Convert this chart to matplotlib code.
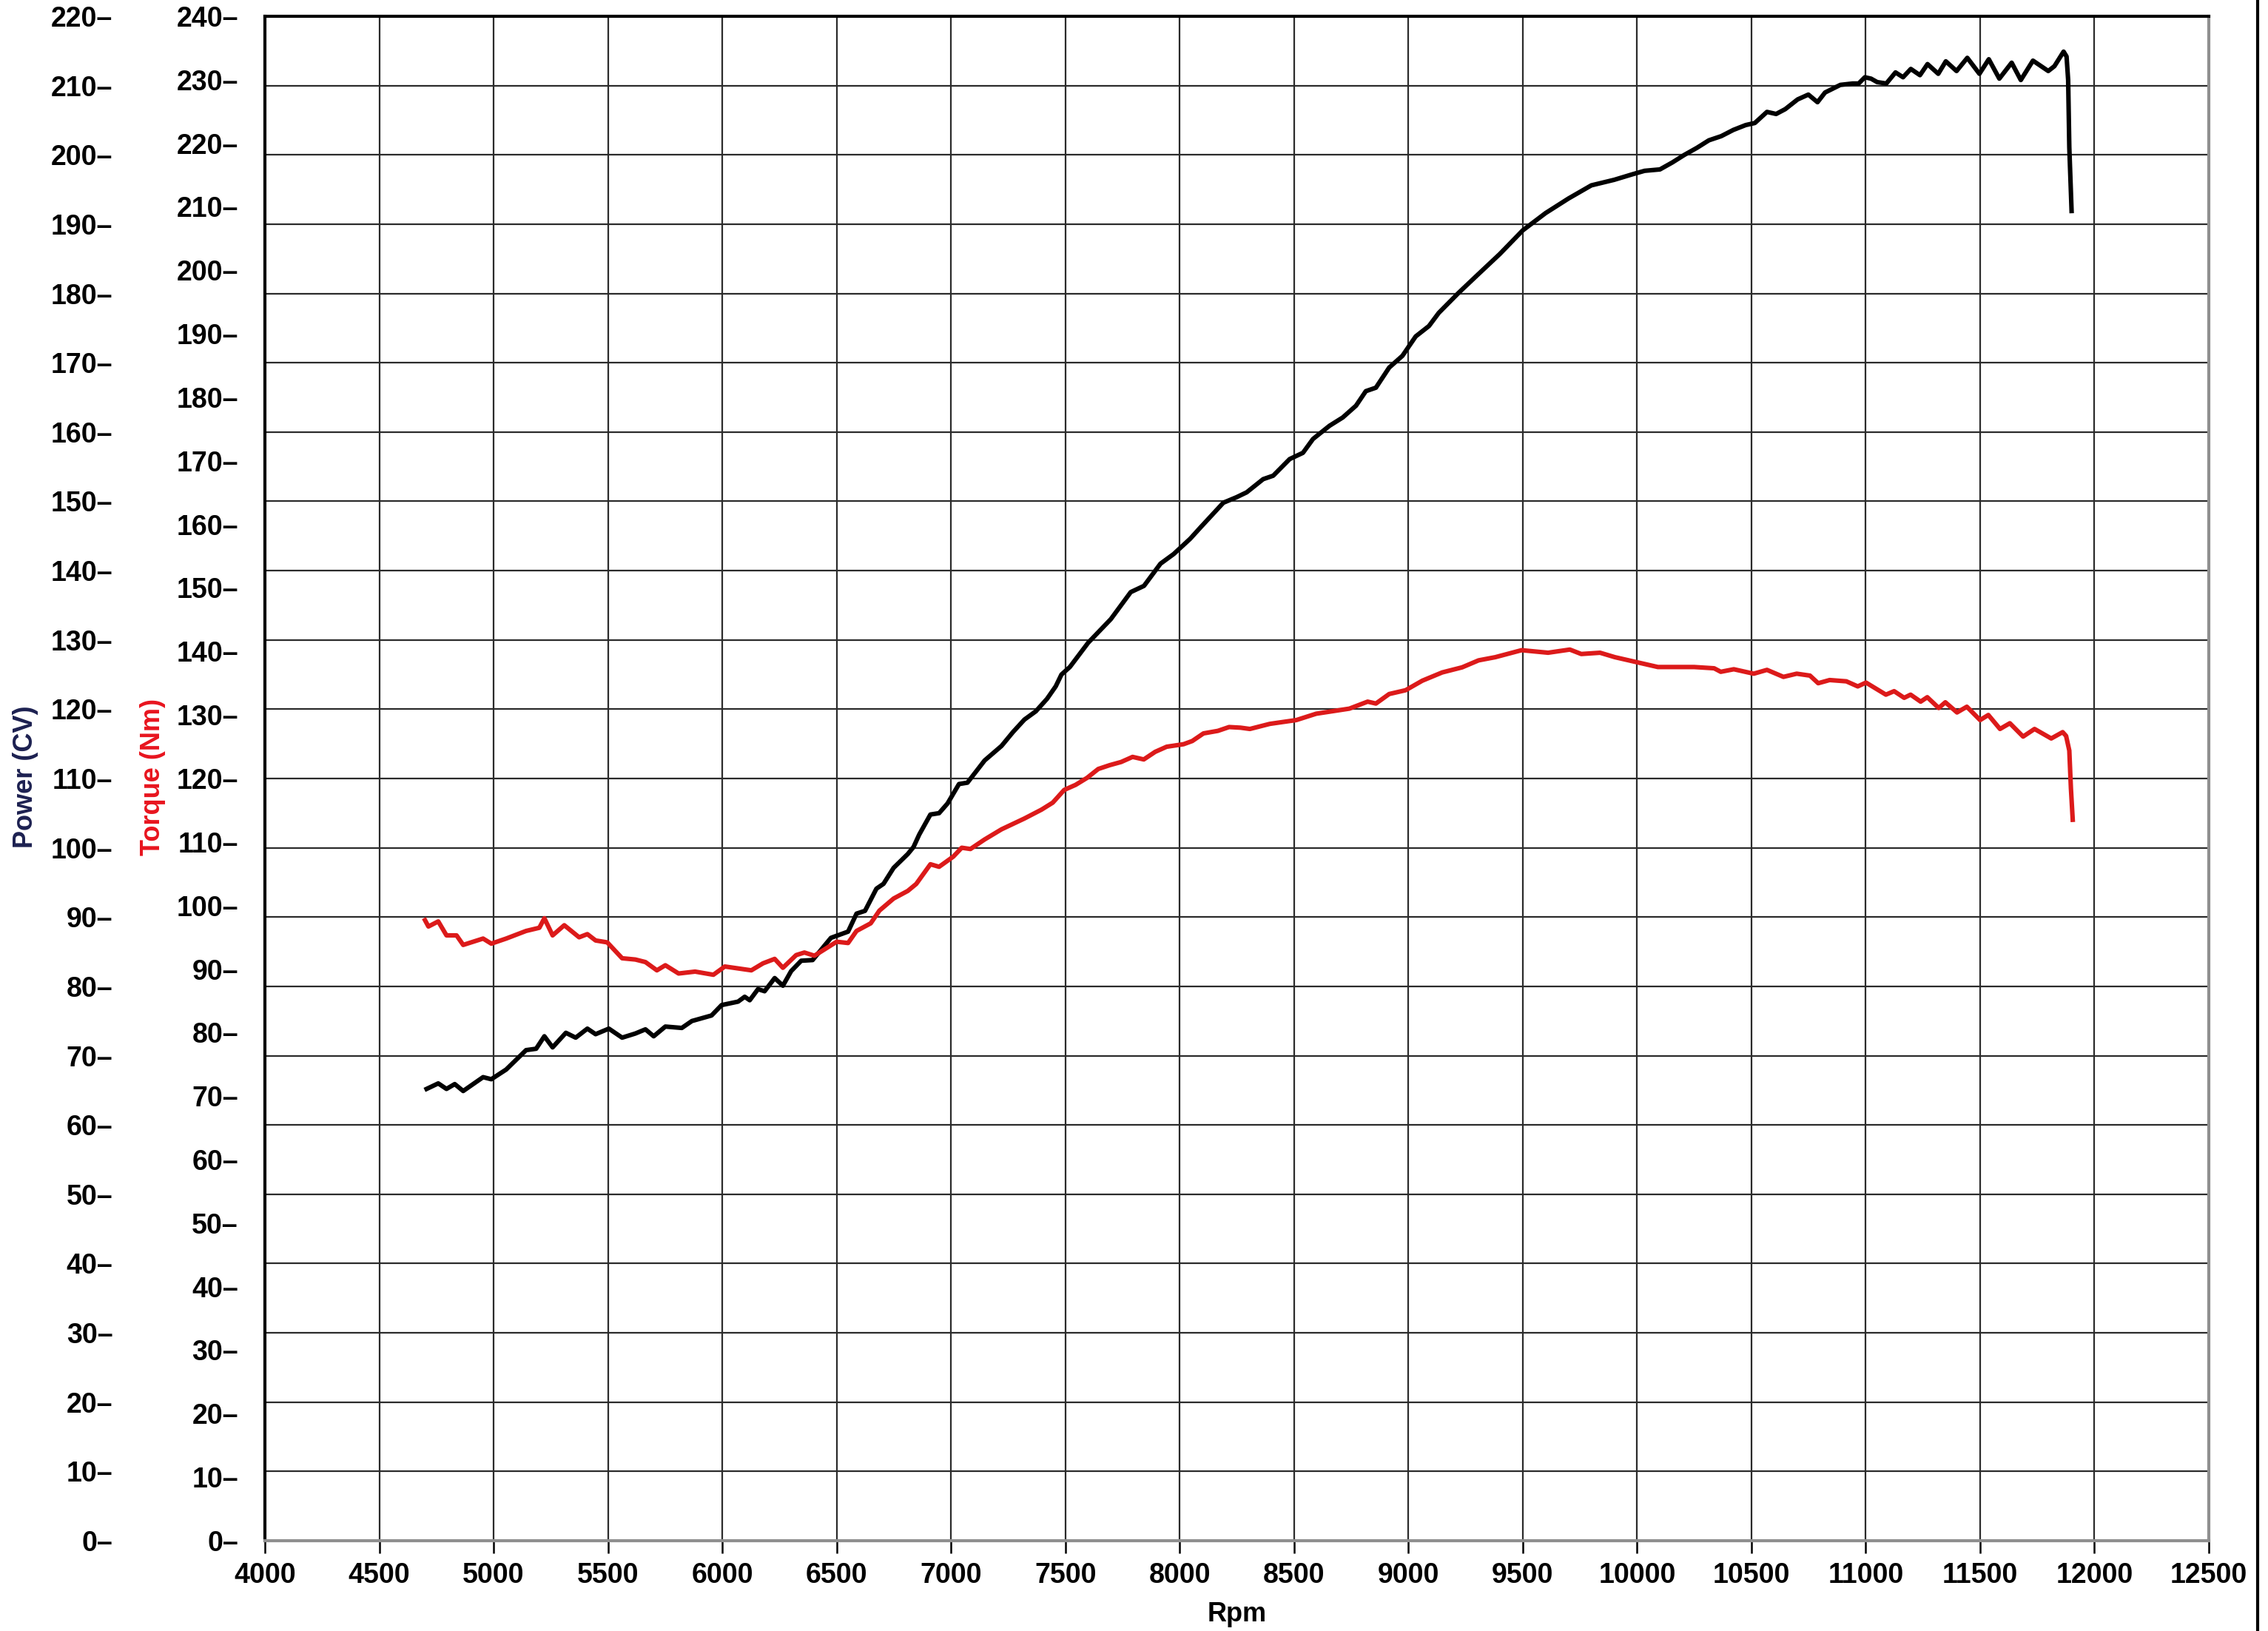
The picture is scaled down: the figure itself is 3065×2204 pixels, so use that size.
import matplotlib
matplotlib.use("Agg")
import matplotlib.pyplot as plt
from matplotlib.lines import Line2D

# power curve (CV)
rpm_power = [
    4707, 4758, 4794, 4830, 4867, 4954, 4990, 5055, 5142, 5186, 5222, 5258,
    5316, 5359, 5410, 5446, 5504, 5562, 5620, 5664, 5700, 5751, 5823, 5867,
    5953, 5997, 6069, 6098, 6120, 6156, 6185, 6229, 6265, 6301, 6345, 6395,
    6475, 6550, 6587, 6624, 6674, 6705, 6749, 6811, 6836, 6861, 6910, 6948,
    6985, 7035, 7072, 7147, 7221, 7271, 7321, 7371, 7420, 7458, 7483, 7520,
    7600, 7699, 7786, 7844, 7916, 7974, 8046, 8090, 8191, 8249, 8293, 8365,
    8409, 8481, 8539, 8583, 8655, 8713, 8771, 8814, 8858, 8916, 8974, 9032,
    9090, 9133, 9220, 9300, 9400, 9500, 9600, 9700, 9800, 9900, 9980, 10033,
    10100, 10154, 10207, 10261, 10314, 10368, 10421, 10475, 10515, 10568,
    10608, 10648, 10702, 10749, 10789, 10822, 10889, 10943, 10969, 10996,
    11023, 11050, 11090, 11130, 11163, 11197, 11237, 11270, 11317, 11350,
    11397, 11444, 11497, 11538, 11584, 11638, 11678, 11731, 11798, 11825,
    11865, 11878, 11885, 11890, 11900,
]
power_cv = [
    65.2, 66.0, 65.2, 65.9, 64.9, 66.9, 66.6, 68.0, 70.8, 71.0, 72.8, 71.2,
    73.3, 72.6, 73.9, 73.1, 73.9, 72.6, 73.2, 73.8, 72.8, 74.2, 74.0, 75.0,
    75.8, 77.3, 77.8, 78.5, 78.0, 79.6, 79.3, 81.2, 80.1, 82.2, 83.7, 83.8,
    87.0, 87.9, 90.5, 90.9, 94.1, 94.8, 97.1, 99.1, 100.1, 101.9, 104.8, 105.0,
    106.4, 109.2, 109.4, 112.6, 114.7, 116.7, 118.5, 119.7, 121.5, 123.3, 125.0, 126.1,
    129.6, 133.0, 136.9, 137.8, 141.0, 142.4, 144.6, 146.2, 149.8, 150.6, 151.3, 153.2,
    153.7, 156.1, 157.0, 159.0, 160.9, 162.1, 163.8, 165.9, 166.4, 169.3, 171.0, 173.8,
    175.3, 177.2, 180.1, 182.6, 185.7, 189.1, 191.6, 193.7, 195.6, 196.4, 197.2, 197.7,
    197.9, 198.9, 200.0, 201.0, 202.1, 202.7, 203.6, 204.3, 204.6, 206.2,
    205.9, 206.6, 208.0, 208.7, 207.6, 209.0, 210.1, 210.3, 210.3, 211.2,
    211.0, 210.5, 210.3, 211.9, 211.2, 212.4, 211.5, 213.1, 211.7, 213.5,
    212.1, 214.0, 211.7, 213.8, 211.0, 213.3, 210.8, 213.6, 212.1, 212.8,
    214.9, 214.2, 210.8, 201.1, 191.9,
]

# torque curve (Nm)
rpm_torque = [
    4700, 4715, 4758, 4794, 4838, 4867, 4954, 4990, 5055, 5142, 5200, 5222,
    5258, 5309, 5374, 5410, 5446, 5497, 5562, 5620, 5664, 5714, 5751, 5809,
    5881, 5961, 6011, 6069, 6127, 6178, 6229, 6265, 6323, 6359, 6403, 6500,
    6550, 6587, 6649, 6687, 6749, 6811, 6848, 6910, 6948, 7010, 7047, 7085,
    7147, 7221, 7321, 7396, 7445, 7495, 7545, 7595, 7644, 7694, 7744, 7794,
    7843, 7893, 7943, 8017, 8055, 8104, 8167, 8216, 8266, 8307, 8394, 8510,
    8597, 8742, 8822, 8858, 8916, 8988, 9061, 9148, 9235, 9307, 9380, 9495,
    9611, 9706, 9756, 9838, 9903, 10000, 10091, 10250, 10337, 10366, 10423,
    10510, 10568, 10640, 10698, 10756, 10792, 10842, 10915, 10965, 11001,
    11088, 11124, 11168, 11196, 11240, 11269, 11319, 11348, 11399, 11442,
    11500, 11536, 11587, 11630, 11688, 11738, 11811, 11861, 11876, 11890,
    11897, 11905,
]
torque_nm = [
    97.7, 96.7, 97.5, 95.3, 95.3, 93.8, 94.8, 94.0, 94.8, 96.0, 96.5, 98.0,
    95.3, 96.9, 95.0, 95.5, 94.5, 94.2, 91.7, 91.5, 91.1, 89.8, 90.6, 89.3,
    89.6, 89.1, 90.4, 90.1, 89.8, 90.9, 91.6, 90.2, 92.2, 92.6, 92.1, 94.3,
    94.1, 96.0, 97.2, 99.2, 101.1, 102.3, 103.4, 106.5, 106.1, 107.7, 109.1, 108.9,
    110.4, 112.0, 113.7, 115.1, 116.2, 118.2, 119.0, 120.1, 121.5, 122.1, 122.6, 123.4,
    123.0, 124.2, 125.0, 125.4, 125.9, 127.1, 127.5, 128.1, 128.0, 127.8, 128.6, 129.2,
    130.2, 131.0, 132.1, 131.8, 133.3, 133.9, 135.4, 136.7, 137.5, 138.6, 139.1, 140.2,
    139.8, 140.3, 139.6, 139.8, 139.1, 138.3, 137.55, 137.55, 137.35, 136.8, 137.2,
    136.5, 137.1, 136.0, 136.5, 136.2, 135.0, 135.5, 135.3, 134.5, 135.1,
    133.2, 133.75, 132.7, 133.2, 132.1, 132.8, 131.1, 132.0, 130.4, 131.3,
    129.2, 130.0, 127.8, 128.7, 126.6, 127.8, 126.3, 127.3, 126.7, 124.4,
    118.5, 113.5,
]

rpm_ticks = list(range(4000, 12501, 500))
power_ticks = list(range(0, 221, 10))
torque_ticks = list(range(0, 241, 10))

tick_font = ["Liberation Sans Narrow", "Liberation Sans", "DejaVu Sans"]
title_font = ["Liberation Sans", "DejaVu Sans"]

fig = plt.figure(figsize=(30.65, 22.04), dpi=100)
ax = fig.add_axes([358 / 3065, 122 / 2204, 2627 / 3065, 2060 / 2204])
ax_t = ax.twinx()

ax.plot(rpm_power, power_cv, color="black", lw=4.4, zorder=3,
        solid_joinstyle="round")
ax_t.plot(rpm_torque, torque_nm, color="#dc1a1a", lw=4.4, zorder=3,
          solid_joinstyle="round")

ax.set_xlim(4000, 12500)
ax.set_ylim(0, 220)
ax_t.set_ylim(0, 240)

ax.set_xticks(rpm_ticks)
ax.set_xticklabels([str(v) for v in rpm_ticks], fontfamily=tick_font,
                   fontweight="bold", fontsize=27)
ax.set_yticks(power_ticks)
ax.set_yticklabels([f"{v}\u2013" for v in power_ticks], fontfamily=tick_font,
                   fontweight="bold", fontsize=27)
ax_t.set_yticks(torque_ticks)
ax_t.set_yticklabels([f"{v}\u2013" for v in torque_ticks], fontfamily=tick_font,
                     fontweight="bold", fontsize=27)

ax.tick_params(axis="x", direction="out", length=12, width=1.8, pad=9)
ax.tick_params(axis="y", length=0, pad=148)
ax_t.yaxis.set_ticks_position("left")
ax_t.tick_params(axis="y", length=0, pad=26, left=True, labelleft=True,
                 right=False, labelright=False)

ax.grid(True, color="#2b2b2b", lw=1.6, zorder=0)
ax.set_axisbelow(True)

for side in ["top", "left"]:
    ax.spines[side].set_color("black")
    ax.spines[side].set_linewidth(3)
for side in ["bottom", "right"]:
    ax.spines[side].set_color("#8f8f8f")
    ax.spines[side].set_linewidth(3)
for sp in ax_t.spines.values():
    sp.set_visible(False)

ax.set_xlabel("Rpm", fontfamily=title_font, fontweight="bold", fontsize=26,
              labelpad=12)

fig.text(35 / 3065, 1 - 1050 / 2204, "Power (CV)", rotation=90, ha="center",
         va="center", color="#1c2050", fontfamily=title_font,
         fontweight="bold", fontsize=26)
fig.text(207 / 3065, 1 - 1050 / 2204, "Torque (Nm)", rotation=90, ha="center",
         va="center", color="#e8141e", fontfamily=title_font,
         fontweight="bold", fontsize=26)

# frame line at the right edge of the sheet
fig.add_artist(Line2D([3051 / 3065, 3051 / 3065], [0, 1],
                      transform=fig.transFigure, color="black", lw=3))

fig.savefig("out.png", dpi=100, facecolor="white")
